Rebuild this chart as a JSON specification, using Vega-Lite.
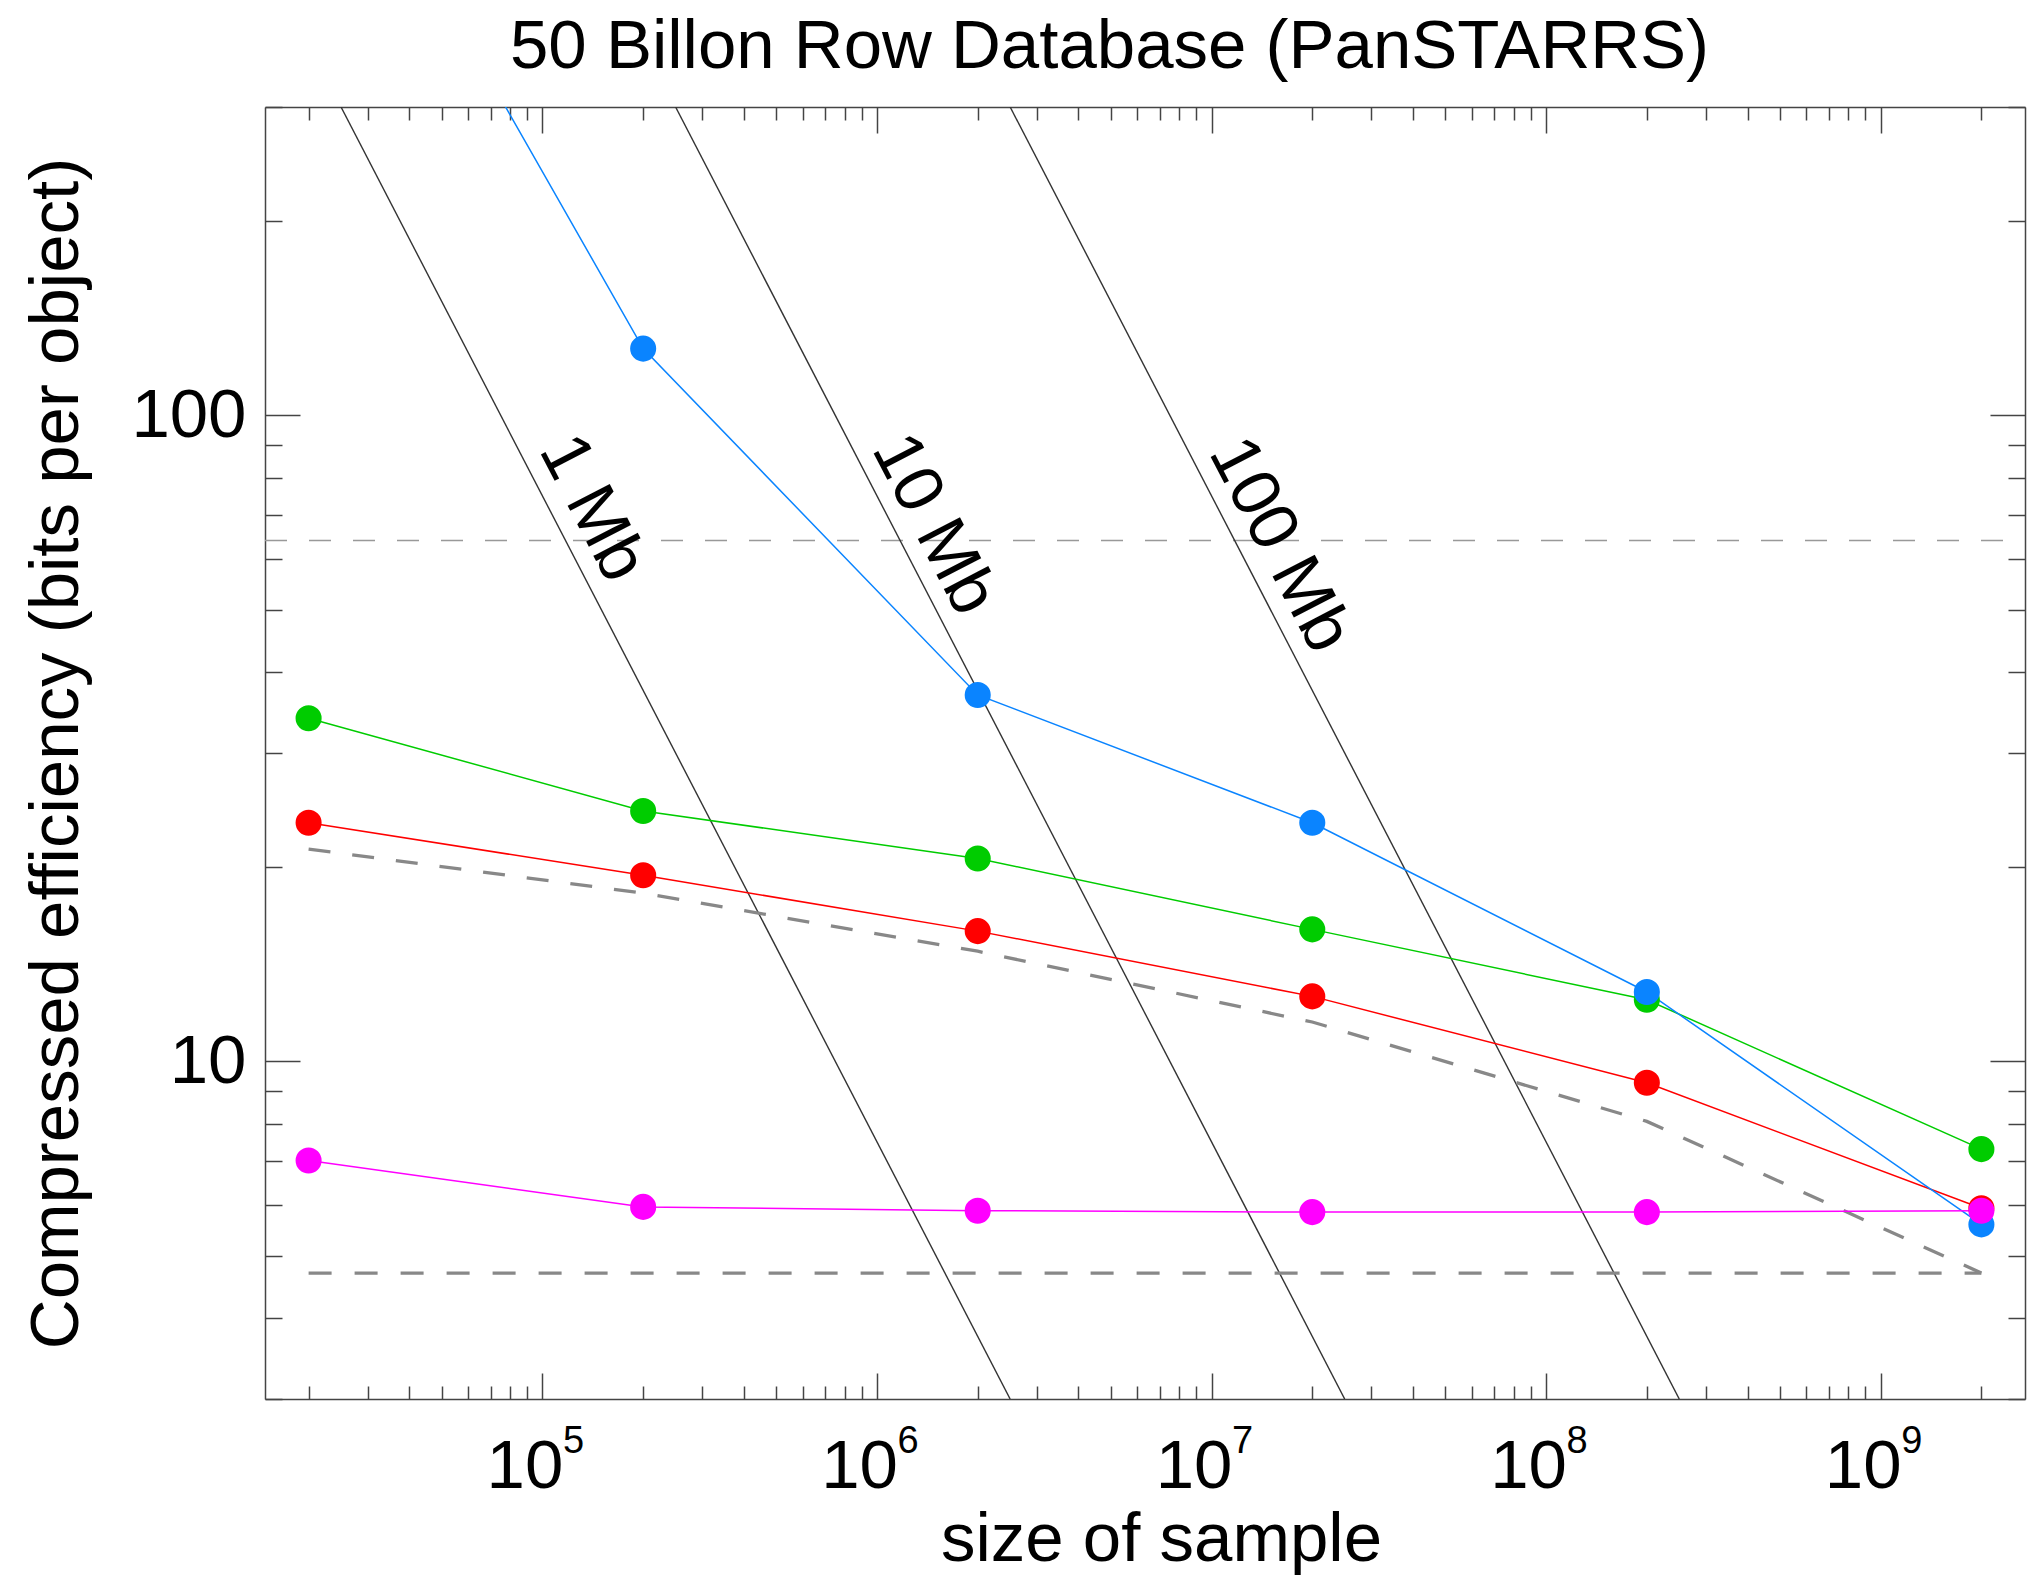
{
  "$schema": "https://vega.github.io/schema/vega-lite/v6.json",
  "width": 1760,
  "height": 1292,
  "autosize": {"type": "none"},
  "padding": {"left": 265, "top": 107, "right": 3, "bottom": 177},
  "background": "white",
  "config": {
    "font": "Liberation Sans",
    "view": {"stroke": null},
    "axis": {"grid": false, "domainColor": "#444444", "domainWidth": 1.5, "tickColor": "#444444", "tickWidth": 1.5, "labelColor": "black", "titleColor": "black", "labelFontSize": 69, "titleFontSize": 69, "titleFontWeight": "normal", "labelFont": "Liberation Sans", "titleFont": "Liberation Sans", "labelOverlap": false, "labelFlush": false}
  },
  "datasets": {
    "series": [
      {"s": "green", "n": 20000, "v": 33.96},
      {"s": "green", "n": 200000, "v": 24.4},
      {"s": "green", "n": 2000000, "v": 20.6},
      {"s": "green", "n": 20000000, "v": 16.0},
      {"s": "green", "n": 200000000, "v": 12.45},
      {"s": "green", "n": 2000000000, "v": 7.31},
      {"s": "red", "n": 20000, "v": 23.4},
      {"s": "red", "n": 200000, "v": 19.4},
      {"s": "red", "n": 2000000, "v": 15.9},
      {"s": "red", "n": 20000000, "v": 12.6},
      {"s": "red", "n": 200000000, "v": 9.26},
      {"s": "red", "n": 2000000000, "v": 5.92},
      {"s": "blue", "n": 20000, "v": 1030},
      {"s": "blue", "n": 200000, "v": 126.8},
      {"s": "blue", "n": 2000000, "v": 36.9},
      {"s": "blue", "n": 20000000, "v": 23.4},
      {"s": "blue", "n": 200000000, "v": 12.8},
      {"s": "blue", "n": 2000000000, "v": 5.59},
      {"s": "magenta", "n": 20000, "v": 7.02},
      {"s": "magenta", "n": 200000, "v": 5.95},
      {"s": "magenta", "n": 2000000, "v": 5.87},
      {"s": "magenta", "n": 20000000, "v": 5.84},
      {"s": "magenta", "n": 200000000, "v": 5.84},
      {"s": "magenta", "n": 2000000000, "v": 5.87}
    ],
    "mb": [
      {"lab": "1 Mb", "n": 25000, "v": 300},
      {"lab": "1 Mb", "n": 2500000, "v": 3},
      {"lab": "10 Mb", "n": 250000, "v": 300},
      {"lab": "10 Mb", "n": 25000000, "v": 3},
      {"lab": "100 Mb", "n": 2500000, "v": 300},
      {"lab": "100 Mb", "n": 250000000, "v": 3}
    ],
    "mblabels": [
      {"t": "1 Mb", "n": 141000, "v": 71.8},
      {"t": "10 Mb", "n": 1480000, "v": 67.8},
      {"t": "100 Mb", "n": 16000000, "v": 63.0}
    ],
    "curve": [
      {"n": 20000, "v": 21.3},
      {"n": 200000, "v": 18.2},
      {"n": 2000000, "v": 14.8},
      {"n": 20000000, "v": 11.5},
      {"n": 200000000, "v": 8.07},
      {"n": 2000000000, "v": 4.7}
    ],
    "floor": [
      {"n": 20000, "v": 4.7},
      {"n": 2000000000, "v": 4.7}
    ],
    "top": [
      {"n": 14815, "v": 64},
      {"n": 2700000000, "v": 64}
    ]
  },
  "resolve": {"axis": {"x": "independent", "y": "independent"}},
  "layer": [
    {
      "data": {"name": "top"},
      "mark": {"type": "line", "color": "#999999", "strokeWidth": 1.5, "strokeDash": [22, 22], "clip": true},
      "encoding": {
        "x": {"field": "n", "type": "quantitative", "scale": {"type": "log", "domain": [14815, 2700000000], "nice": false},
          "axis": {"orient": "bottom", "values": [20000,30000,40000,50000,60000,70000,80000,90000,100000,200000,300000,400000,500000,600000,700000,800000,900000,1000000,2000000,3000000,4000000,5000000,6000000,7000000,8000000,9000000,10000000,20000000,30000000,40000000,50000000,60000000,70000000,80000000,90000000,100000000,200000000,300000000,400000000,500000000,600000000,700000000,800000000,900000000,1000000000,2000000000],
            "labels": false, "domain": false, "title": null,
            "tickSize": {"condition": {"test": "abs(log(datum.value)/LN10 - round(log(datum.value)/LN10)) < 0.001", "value": -26}, "value": -13}}},
        "y": {"field": "v", "type": "quantitative", "scale": {"type": "log", "domain": [3, 300], "nice": false},
          "axis": {"orient": "left", "values": [3,4,5,6,7,8,9,10,20,30,40,50,60,70,80,90,100,200,300],
            "labels": false, "domain": false, "title": null,
            "tickSize": {"condition": {"test": "abs(log(datum.value)/LN10 - round(log(datum.value)/LN10)) < 0.001", "value": -35}, "value": -17}}}
      }
    },
    {
      "data": {"name": "mb"},
      "mark": {"type": "line", "color": "#333333", "strokeWidth": 1.4, "clip": true},
      "encoding": {
        "x": {"field": "n", "type": "quantitative", "scale": {"type": "log", "domain": [14815, 2700000000], "nice": false},
          "axis": {"orient": "bottom", "values": [100000, 1000000, 10000000, 100000000, 1000000000], "ticks": false, "labelExpr": "'10'",
            "labelAlign": "center", "labelOffset": -18, "labelBaseline": "alphabetic", "labelPadding": 88,
            "title": "size of sample", "titleX": 896, "titleY": 161, "titleBaseline": "alphabetic", "titleAlign": "center", "titleAnchor": null}},
        "y": {"field": "v", "type": "quantitative", "scale": {"type": "log", "domain": [3, 300], "nice": false},
          "axis": {"orient": "left", "values": [10, 100], "format": "d", "ticks": false, "labelPadding": 19, "labelAlign": "right", "labelBaseline": "middle",
            "title": "Compressed efficiency (bits per object)", "titleX": -188, "titleY": 646, "titleAngle": -90, "titleBaseline": "alphabetic", "titleAlign": "center", "titleAnchor": null}},
        "detail": {"field": "lab"}
      }
    },
    {
      "data": {"name": "mblabels"},
      "mark": {"type": "text", "fontSize": 69, "angle": 62.6, "align": "center", "baseline": "middle", "color": "black"},
      "encoding": {
        "x": {"field": "n", "type": "quantitative", "scale": {"type": "log", "domain": [14815, 2700000000], "nice": false}, "axis": null},
        "y": {"field": "v", "type": "quantitative", "scale": {"type": "log", "domain": [3, 300], "nice": false}, "axis": null},
        "text": {"field": "t"}
      }
    },
    {
      "data": {"name": "floor"},
      "mark": {"type": "line", "color": "#888888", "strokeWidth": 3.3, "strokeDash": [23, 23], "clip": true},
      "encoding": {
        "x": {"field": "n", "type": "quantitative", "scale": {"type": "log", "domain": [14815, 2700000000], "nice": false},
          "axis": {"orient": "top", "values": [20000,30000,40000,50000,60000,70000,80000,90000,100000,200000,300000,400000,500000,600000,700000,800000,900000,1000000,2000000,3000000,4000000,5000000,6000000,7000000,8000000,9000000,10000000,20000000,30000000,40000000,50000000,60000000,70000000,80000000,90000000,100000000,200000000,300000000,400000000,500000000,600000000,700000000,800000000,900000000,1000000000,2000000000],
            "labels": false,
            "title": "50 Billon Row Database (PanSTARRS)", "titleX": 844, "titleY": -40, "titleBaseline": "alphabetic", "titleAlign": "center", "titleAnchor": null, "titleAngle": 0,
            "tickSize": {"condition": {"test": "abs(log(datum.value)/LN10 - round(log(datum.value)/LN10)) < 0.001", "value": -26}, "value": -13}}},
        "y": {"field": "v", "type": "quantitative", "scale": {"type": "log", "domain": [3, 300], "nice": false},
          "axis": {"orient": "right", "values": [3,4,5,6,7,8,9,10,20,30,40,50,60,70,80,90,100,200,300],
            "labels": false, "title": null,
            "tickSize": {"condition": {"test": "abs(log(datum.value)/LN10 - round(log(datum.value)/LN10)) < 0.001", "value": -35}, "value": -17}}}
      }
    },
    {
      "data": {"name": "curve"},
      "mark": {"type": "line", "color": "#888888", "strokeWidth": 3.3, "strokeDash": [22, 22], "clip": true},
      "encoding": {
        "x": {"field": "n", "type": "quantitative", "scale": {"type": "log", "domain": [14815, 2700000000], "nice": false},
          "axis": {"orient": "bottom", "values": [100000, 1000000, 10000000, 100000000, 1000000000], "ticks": false, "domain": false,
            "labelExpr": "format(log(datum.value)/LN10, '.0f')", "labelFontSize": 38, "labelAlign": "left", "labelOffset": 20,
            "labelBaseline": "alphabetic", "labelPadding": 53, "title": null}},
        "y": {"field": "v", "type": "quantitative", "scale": {"type": "log", "domain": [3, 300], "nice": false}, "axis": null}
      }
    },
    {
      "data": {"name": "series"},
      "mark": {"type": "line", "strokeWidth": 1.5, "clip": true},
      "encoding": {
        "x": {"field": "n", "type": "quantitative", "scale": {"type": "log", "domain": [14815, 2700000000], "nice": false}, "axis": null},
        "y": {"field": "v", "type": "quantitative", "scale": {"type": "log", "domain": [3, 300], "nice": false}, "axis": null},
        "color": {"field": "s", "type": "nominal", "scale": {"domain": ["green", "red", "blue", "magenta"], "range": ["#00cc00", "#ff0000", "#0a84ff", "#ff00ff"]}, "legend": null}
      }
    },
    {
      "data": {"name": "series"},
      "mark": {"type": "point", "filled": true, "size": 680, "opacity": 1, "strokeWidth": 0, "clip": true},
      "encoding": {
        "x": {"field": "n", "type": "quantitative", "scale": {"type": "log", "domain": [14815, 2700000000], "nice": false}, "axis": null},
        "y": {"field": "v", "type": "quantitative", "scale": {"type": "log", "domain": [3, 300], "nice": false}, "axis": null},
        "color": {"field": "s", "type": "nominal", "scale": {"domain": ["green", "red", "blue", "magenta"], "range": ["#00cc00", "#ff0000", "#0a84ff", "#ff00ff"]}, "legend": null}
      }
    }
  ]
}
